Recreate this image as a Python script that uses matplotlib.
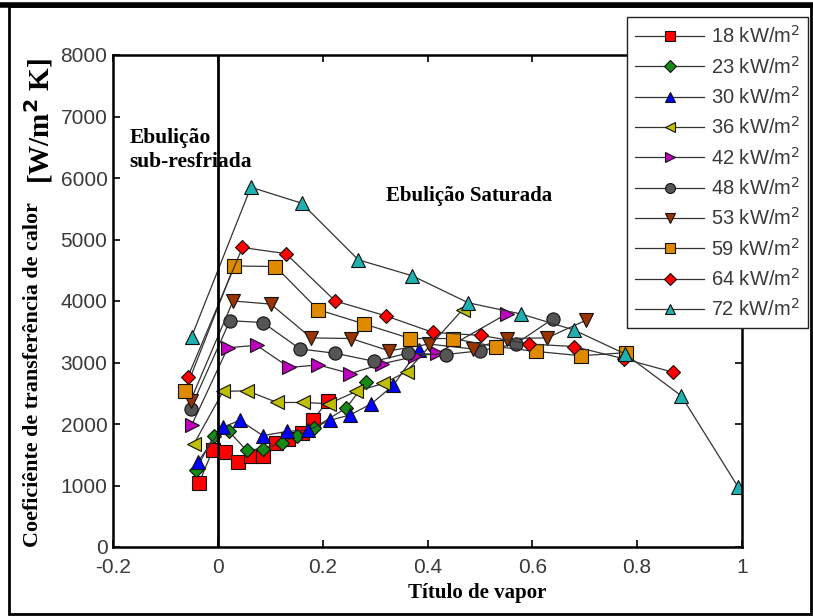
import numpy as np
import matplotlib
matplotlib.use('Agg')
import matplotlib.pyplot as plt
from matplotlib.patches import Rectangle

# valores (titulo de vapor, coeficiente W/m2K)
x18 = [-0.036, -0.01, 0.013, 0.038, 0.063, 0.086, 0.111, 0.134, 0.161, 0.182, 0.21]
y18 = [1040, 1570, 1540, 1390, 1480, 1480, 1690, 1750, 1860, 2070, 2380]

x23 = [-0.042, -0.008, 0.021, 0.055, 0.086, 0.122, 0.151, 0.184, 0.245, 0.283]
y23 = [1250, 1800, 1880, 1570, 1600, 1690, 1810, 1940, 2260, 2690]

x30 = [-0.038, 0.01, 0.042, 0.086, 0.132, 0.172, 0.214, 0.253, 0.293, 0.335, 0.383]
y30 = [1390, 1950, 2060, 1810, 1880, 1900, 2060, 2150, 2330, 2630, 3210]

x36 = [-0.046, 0.01, 0.056, 0.113, 0.163, 0.212, 0.264, 0.316, 0.36, 0.467]
y36 = [1670, 2530, 2540, 2350, 2350, 2330, 2530, 2660, 2850, 3860]

x42 = [-0.05, 0.019, 0.074, 0.136, 0.192, 0.253, 0.314, 0.377, 0.419, 0.551]
y42 = [1980, 3240, 3280, 2920, 2960, 2820, 2980, 3100, 3150, 3790]

x48 = [-0.052, 0.023, 0.086, 0.157, 0.224, 0.298, 0.362, 0.435, 0.50, 0.568, 0.639]
y48 = [2250, 3680, 3650, 3220, 3150, 3020, 3150, 3130, 3190, 3300, 3710]

x53 = [-0.052, 0.029, 0.101, 0.178, 0.254, 0.327, 0.403, 0.486, 0.551, 0.628, 0.703]
y53 = [2380, 4000, 3950, 3400, 3390, 3190, 3300, 3220, 3390, 3400, 3690]

x59 = [-0.063, 0.031, 0.11, 0.191, 0.278, 0.367, 0.448, 0.53, 0.607, 0.693, 0.779]
y59 = [2530, 4570, 4560, 3860, 3630, 3390, 3390, 3260, 3180, 3110, 3160]

x64 = [-0.057, 0.047, 0.13, 0.224, 0.32, 0.41, 0.503, 0.594, 0.679, 0.775, 0.869]
y64 = [2770, 4870, 4770, 4000, 3760, 3490, 3440, 3300, 3260, 3060, 2840]

x72 = [-0.05, 0.063, 0.16, 0.268, 0.371, 0.478, 0.578, 0.679, 0.777, 0.884, 0.993]
y72 = [3420, 5850, 5590, 4670, 4410, 3970, 3790, 3530, 3140, 2460, 970]

fluxos = ['18', '23', '30', '36', '42', '48', '53', '59', '64', '72']
xs = [x18, x23, x30, x36, x42, x48, x53, x59, x64, x72]
ys = [y18, y23, y30, y36, y42, y48, y53, y59, y64, y72]

estilos = [
    ('s', '#ff0000', 9.5),
    ('D', '#138a13', 7.5),
    ('^', '#0000ff', 9.5),
    ('<', '#bfbf00', 10),
    ('>', '#c000c0', 10),
    ('o', '#555555', 9.5),
    ('v', '#993300', 10),
    ('s', '#e08a00', 9.5),
    ('D', '#ff0000', 7.5),
    ('^', '#20b0b0', 10),
]

fig = plt.figure(figsize=(8.13, 6.16), dpi=100)
ax = fig.add_axes([113 / 813., 1 - 547 / 616., (742 - 113) / 813., (547 - 55) / 616.])

for xv, yv, fl, (mk, cor, ms) in zip(xs, ys, fluxos, estilos):
    ax.plot(xv, yv, '-', color='#333333', linewidth=0.9, marker=mk,
            markersize=ms, markerfacecolor=cor, markeredgecolor='#111111',
            markeredgewidth=0.8, label=fl + u' kW/m$^2$')

ax.axvline(0, color='k', linewidth=2)

ax.set_xlim(-0.2, 1)
ax.set_ylim(0, 8000)
ax.set_xticks(np.arange(-0.2, 1.01, 0.2))
ax.set_xticklabels(['-0.2', '0', '0.2', '0.4', '0.6', '0.8', '1'])
ax.set_yticks(np.arange(0, 8001, 1000))
ax.tick_params(direction='in', top=True, right=True, length=5, width=1.2,
               labelsize=15, labelcolor='#3a3a3a', pad=4)
ax.tick_params(axis='x', pad=8)
for lab in ax.get_xticklabels() + ax.get_yticklabels():
    lab.set_family('Liberation Sans')
for sp in ax.spines.values():
    sp.set_linewidth(1.8)

serif = 'Liberation Serif'
ax.text(-0.168, 6450, u'Ebulição\nsub-resfriada', fontsize=15.5,
        fontweight='bold', family=serif, va='center', ha='left',
        linespacing=1.25)
ax.text(0.32, 5700, u'Ebulição Saturada', fontsize=15,
        fontweight='bold', family=serif, va='center', ha='left')

fig.text(33 / 813., 1 - 375 / 616., u'Coeficiênte de transferência de calor',
         rotation=90, fontsize=15.8, fontweight='bold', family=serif,
         ha='center', va='center')
fig.text(39 / 813., 1 - 121 / 616., u'[W/m$^\\mathbf{2}$ K]', rotation=90,
         fontsize=21, fontweight='bold', family=serif,
         ha='center', va='center')
fig.text(408 / 813., 1 - 593 / 616., u'Título de vapor', fontsize=15,
         fontweight='bold', family=serif, ha='left', va='center')

leg = ax.legend(loc='upper right', bbox_to_anchor=(808 / 813., 1 - 17 / 616.),
                bbox_transform=fig.transFigure, borderaxespad=0,
                fancybox=False, framealpha=1, edgecolor='#222222',
                prop={'family': 'Liberation Sans', 'size': 14.5},
                markerscale=0.75, handlelength=3.4, labelspacing=0.42,
                borderpad=0.4, handletextpad=0.35)
leg.get_frame().set_linewidth(1.0)
for t in leg.get_texts():
    t.set_color('#3a3a3a')

# moldura preta da figura
fig.patches.append(Rectangle((9 / 813., 2 / 616.), 802 / 813., 608 / 616.,
                             transform=fig.transFigure, fill=False,
                             edgecolor='k', linewidth=2))
fig.add_artist(plt.Line2D([0, 1], [1 - 5 / 616., 1 - 5 / 616.],
                          transform=fig.transFigure, color='k', linewidth=4))

fig.savefig('out.png', dpi=100)
